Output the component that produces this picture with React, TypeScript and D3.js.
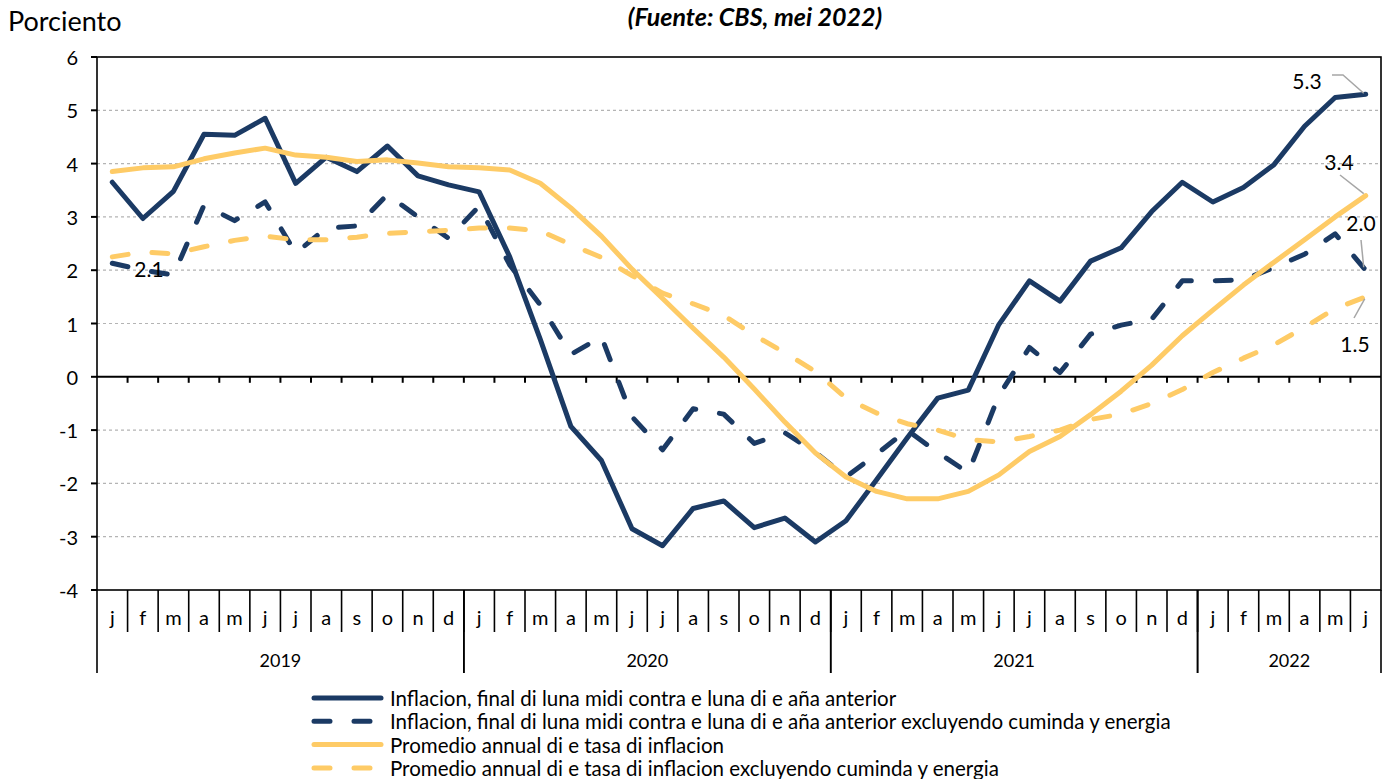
import React from 'react';
import * as d3 from 'd3';

// meses (ene 2019 - jun 2022)
const months = ['j', 'f', 'm', 'a', 'm', 'j', 'j', 'a', 's', 'o', 'n', 'd'];
const monthLabels = [...months, ...months, ...months, ...months.slice(0, 6)];
const years = ['2019', '2020', '2021', '2022'];
const yearSpan = [12, 12, 12, 6];
const yTicks = [-4, -3, -2, -1, 0, 1, 2, 3, 4, 5, 6];

// Inflacion, final di luna midi contra e luna di e aña anterior
const inflacion = [
  3.65, 2.97, 3.48, 4.55, 4.53, 4.85, 3.63, 4.12, 3.85, 4.33, 3.77, 3.6,
  3.47, 2.25, 0.7, -0.93, -1.57, -2.85, -3.17, -2.47, -2.33, -2.83, -2.65, -3.1,
  -2.7, -1.93, -1.15, -0.4, -0.25, 0.98, 1.8, 1.42, 2.17, 2.42, 3.1, 3.65,
  3.28, 3.55, 3.98, 4.7, 5.24, 5.3,
];
// ... excluyendo cuminda y energia
const inflacionCore = [
  2.13, 2.0, 1.91, 3.22, 2.93, 3.28, 2.32, 2.79, 2.83, 3.42, 3.0, 2.6,
  3.2, 2.1, 1.35, 0.42, 0.75, -0.75, -1.37, -0.6, -0.7, -1.25, -1.05, -1.42,
  -1.88, -1.45, -1.0, -1.42, -1.8, -0.35, 0.55, 0.08, 0.8, 0.97, 1.08, 1.8,
  1.8, 1.82, 2.05, 2.3, 2.68, 2.0,
];
// Promedio annual di e tasa di inflacion
const promedio = [
  3.85, 3.92, 3.94, 4.09, 4.2, 4.29, 4.16, 4.12, 4.04, 4.07, 4.01, 3.94,
  3.92, 3.88, 3.63, 3.17, 2.64, 2.02, 1.47, 0.91, 0.37, -0.23, -0.85, -1.43,
  -1.88, -2.15, -2.29, -2.29, -2.15, -1.84, -1.4, -1.12, -0.71, -0.27, 0.22, 0.77,
  1.25, 1.72, 2.15, 2.57, 3.0, 3.4,
];
// ... excluyendo cuminda y energia
const promedioCore = [
  2.25, 2.34, 2.31, 2.44, 2.56, 2.64, 2.57, 2.57, 2.62, 2.69, 2.72, 2.75,
  2.79, 2.79, 2.74, 2.48, 2.24, 1.9, 1.57, 1.37, 1.15, 0.78, 0.45, 0.1,
  -0.4, -0.68, -0.88, -1.0, -1.18, -1.22, -1.12, -1.0, -0.8, -0.7, -0.5, -0.24,
  0.08, 0.35, 0.6, 0.93, 1.28, 1.5,
];

const NAVY = '#1b3a64';
const YELLOW = '#fecb66';
const DASH = '16 24';
const FONT = 'Lato, "Open Sans", sans-serif';

const series = [
  { name: 'Inflacion, final di luna midi contra e luna di e aña anterior', values: inflacion, color: NAVY, dash: null },
  { name: 'Inflacion, final di luna midi contra e luna di e aña anterior excluyendo cuminda y energia', values: inflacionCore, color: NAVY, dash: DASH },
  { name: 'Promedio annual di e tasa di inflacion', values: promedio, color: YELLOW, dash: null },
  { name: 'Promedio annual di e tasa di inflacion excluyendo cuminda y energia', values: promedioCore, color: YELLOW, dash: DASH },
];

export default function App() {
  const width = 1387;
  const height = 779;
  const left = 97, right = 1381, top = 57, bottom = 590;

  const x = d3.scaleBand<number>().domain(d3.range(monthLabels.length)).range([left, right]);
  const bw = x.bandwidth();
  const cx = (i: number) => (x(i) as number) + bw / 2;
  const y = d3.scaleLinear().domain([-4, 6]).range([bottom, top]);

  const line = d3.line<number>().x((_, i) => cx(i)).y(d => y(d));

  const last = monthLabels.length - 1;
  const xl = cx(last);

  let yearStart = 0;
  const yearBlocks = years.map((yr, k) => {
    const s = yearStart;
    yearStart += yearSpan[k];
    return { yr, s, e: yearStart };
  });

  return (
    <svg width={width} height={height} style={{ position: 'absolute', left: 0, top: 0, background: '#fff' }} fontFamily={FONT}>
      <text x={8} y={20} fontSize={27} dominantBaseline="central">Porciento</text>
      <text x={755} y={16} fontSize={25} fontWeight="bold" fontStyle="italic" textAnchor="middle" dominantBaseline="central">(Fuente: CBS, mei 2022)</text>

      {/* grid */}
      {yTicks.filter(t => t !== 0 && t !== 6 && t !== -4).map(t => (
        <line key={'g' + t} x1={left} x2={right} y1={y(t)} y2={y(t)} stroke="#b4b4b4" strokeWidth={1.2} strokeDasharray="3 3" />
      ))}

      {/* frame */}
      <rect x={left} y={top} width={right - left} height={bottom - top} fill="none" stroke="#000" strokeWidth={1.6} />

      {/* y axis */}
      {yTicks.map(t => (
        <g key={'y' + t}>
          <line x1={left - 6} x2={left} y1={y(t)} y2={y(t)} stroke="#000" strokeWidth={2} />
          <text x={78} y={y(t)} fontSize={20} textAnchor="end" dominantBaseline="central">{t}</text>
        </g>
      ))}

      {/* zero line with month ticks */}
      <line x1={left} x2={right} y1={y(0)} y2={y(0)} stroke="#000" strokeWidth={2} />
      {d3.range(1, monthLabels.length).map(i => (
        <line key={'zt' + i} x1={x(i)} x2={x(i)} y1={y(0)} y2={y(0) + 6} stroke="#000" strokeWidth={2} />
      ))}

      {/* category axis below */}
      {d3.range(1, monthLabels.length).map(i => (
        <line key={'ms' + i} x1={x(i)} x2={x(i)} y1={bottom} y2={632} stroke="#000" strokeWidth={1.6} />
      ))}
      {monthLabels.map((m, i) => (
        <text key={'ml' + i} x={cx(i)} y={617} fontSize={20} textAnchor="middle" dominantBaseline="central">{m}</text>
      ))}
      {yearBlocks.map(b => {
        const x0 = x(b.s) as number;
        const x1 = b.e >= monthLabels.length ? right : (x(b.e) as number);
        return (
          <g key={b.yr}>
            <line x1={x0} x2={x0} y1={bottom} y2={673} stroke="#000" strokeWidth={1.6} />
            <line x1={x1} x2={x1} y1={bottom} y2={673} stroke="#000" strokeWidth={1.6} />
            <text x={(x0 + x1) / 2} y={660} fontSize={18} textAnchor="middle" dominantBaseline="central">{b.yr}</text>
          </g>
        );
      })}

      {/* series */}
      {series.map(s => (
        <path key={s.name} d={line(s.values) || ''} fill="none" stroke={s.color} strokeWidth={5}
          strokeDasharray={s.dash || undefined} strokeLinecap="round" strokeLinejoin="round" />
      ))}

      {/* labels at end */}
      <g fontSize={21}>
        <text x={1307} y={80} textAnchor="middle" dominantBaseline="central">{inflacion[last].toFixed(1)}</text>
        <polyline points={`${1332},${75} ${1343},${75} ${xl - 2},${y(inflacion[last]) - 1}`} fill="none" stroke="#a6a6a6" strokeWidth={1.5} />
        <text x={1339} y={161} textAnchor="middle" dominantBaseline="central">{promedio[last].toFixed(1)}</text>
        <line x1={1340} y1={175} x2={xl - 2} y2={y(promedio[last]) - 2} stroke="#a6a6a6" strokeWidth={1.5} />
        <text x={1361} y={222} textAnchor="middle" dominantBaseline="central">{inflacionCore[last].toFixed(1)}</text>
        <line x1={1361} y1={240} x2={xl - 2} y2={y(inflacionCore[last]) - 3} stroke="#a6a6a6" strokeWidth={1.5} />
        <text x={1355} y={343} textAnchor="middle" dominantBaseline="central">{promedioCore[last].toFixed(1)}</text>
        <line x1={1354} y1={318} x2={xl - 1} y2={y(promedioCore[last]) + 2} stroke="#a6a6a6" strokeWidth={1.5} />
        <text x={149} y={268} textAnchor="middle" dominantBaseline="central">{inflacionCore[0].toFixed(1)}</text>
      </g>

      {/* legend */}
      {series.map((s, k) => {
        const ly = 698 + k * 23.3;
        return (
          <g key={'lg' + k}>
            <line x1={314} x2={381} y1={ly} y2={ly} stroke={s.color} strokeWidth={5} strokeLinecap="round"
              strokeDasharray={s.dash || undefined} />
            <text x={390} y={ly} fontSize={20.5} dominantBaseline="central">{s.name}</text>
          </g>
        );
      })}
    </svg>
  );
}
